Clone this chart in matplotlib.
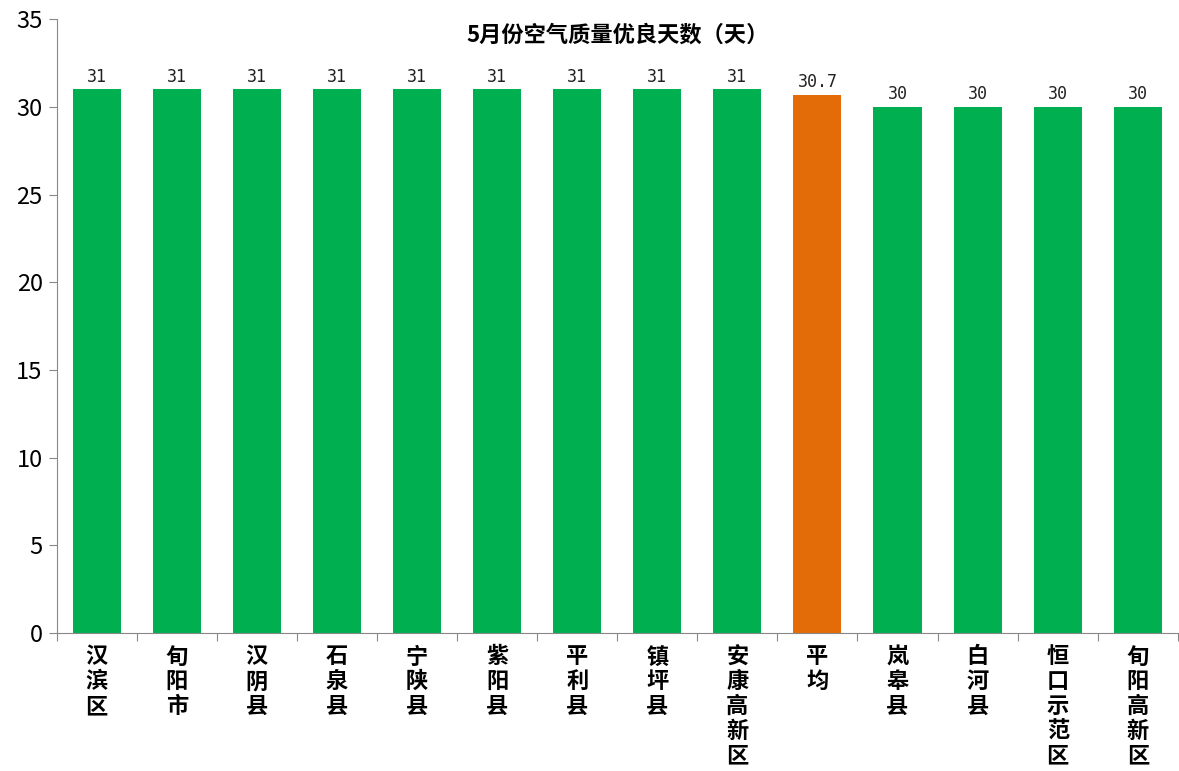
import matplotlib
matplotlib.use('Agg')
import matplotlib.pyplot as plt
import numpy as np

plt.rcParams['font.family'] = ['Noto Sans CJK SC', 'DejaVu Sans']

# 数据
regions = ['汉滨区', '旬阳市', '汉阴县', '石泉县', '宁陕县', '紫阳县', '平利县',
           '镇坪县', '安康高新区', '平均', '岚皋县', '白河县', '恒口示范区', '旬阳高新区']
days = [31, 31, 31, 31, 31, 31, 31, 31, 31, 30.7, 30, 30, 30, 30]
labels = ['31', '31', '31', '31', '31', '31', '31', '31', '31', '30.7', '30', '30', '30', '30']

colors = ['#E36C09' if r == '平均' else '#00B050' for r in regions]

fig = plt.figure(figsize=(11.79, 7.71), dpi=100)
ax = fig.add_axes([0.048, 0.179, 0.951, 0.796])

x = np.arange(len(regions))
ax.bar(x, days, width=0.6, color=colors)

# 数值标签
for xi, v, lab in zip(x, days, labels):
    ax.text(xi, v + 0.2, lab, ha='center', va='bottom', fontsize=12,
            family='DejaVu Sans Mono', color='#222222')

ax.set_xlim(-0.5, len(regions) - 0.5)
ax.set_ylim(0, 35)
ax.set_yticks(range(0, 36, 5))
ax.tick_params(axis='y', labelsize=17, length=6, color='#888888', pad=4)

# x 轴：刻度在类别边界，标签竖排
ax.set_xticks(np.arange(-0.5, len(regions), 1))
ax.set_xticklabels([])
ax.set_xticks(x, minor=True)
ax.set_xticklabels(['\n'.join(r) for r in regions], minor=True,
                   fontsize=16, fontweight='bold', linespacing=1.1)
ax.tick_params(axis='x', which='major', length=6, color='#888888')
ax.tick_params(axis='x', which='minor', length=0, pad=9)
for lab in ax.get_xticklabels(minor=True):
    lab.set_verticalalignment('top')

for s in ['top', 'right']:
    ax.spines[s].set_visible(False)
ax.spines['left'].set_color('#888888')
ax.spines['bottom'].set_color('#888888')

ax.set_title('5月份空气质量优良天数（天）', fontsize=16, fontweight='bold', y=0.95)

fig.savefig('out.png', dpi=100)
